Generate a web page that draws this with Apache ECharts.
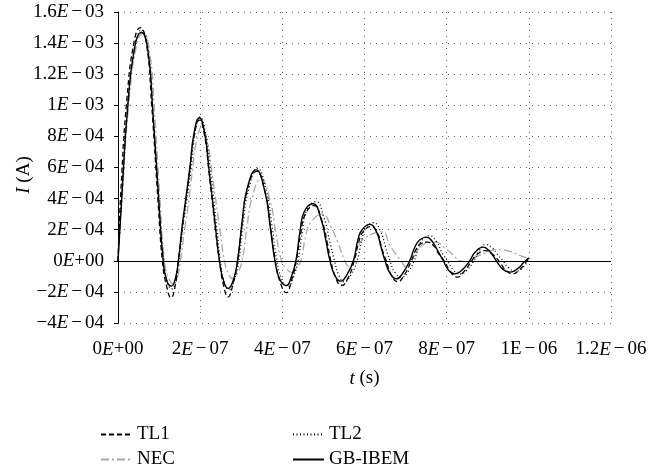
<!DOCTYPE html>
<html>
<head>
<meta charset="utf-8">
<script src="https://cdn.jsdelivr.net/npm/echarts@6/dist/echarts.min.js"></script>
<style>
  html, body { margin: 0; padding: 0; background: #fff; }
  #chart { width: 664px; height: 471px; }
</style>
</head>
<body>
<div id="chart"></div>
<script>
// Time in ns, current in µA; axis labels show seconds and amperes.
const xTickLabels = ['0E+00', '2E−07', '4E−07', '6E−07', '8E−07', '1E−06', '1.2E−06'];
const yTickLabels = ['−4E−04', '−2E−04', '0E+00', '2E−04', '4E−04', '6E−04', '8E−04',
                     '1E−03', '1.2E−03', '1.4E−03', '1.6E−03'];
const uprightE = ['1E−06', '1.2E−03'];

const tl1Time = [0, 7, 22, 40, 54, 69, 82, 97, 108, 118, 129, 140, 147, 156, 165, 175, 185, 198, 211, 221,
  238, 247, 257, 268, 279, 291, 302, 314, 337, 359, 371, 383, 395, 410, 422, 434, 445, 456, 477, 496,
  509, 518, 530, 544, 560, 575, 586, 596, 616, 633, 642, 653, 665, 681, 697, 714, 726, 737, 754, 769,
  781, 794, 808, 826, 842, 861, 874, 894, 910, 927, 944, 961, 978, 990, 1000];
const tl1Current = [0, 450, 1050, 1420, 1500, 1400, 1000, 400, 0, -160, -238, -150, 0, 200, 390, 590, 800, 905, 800, 580,
  180, 0, -160, -233, -160, 0, 240, 450, 575, 430, 220, 0, -140, -205, -130, 0, 180, 300, 355, 260,
  120, 0, -110, -159, -110, 0, 120, 185, 220, 170, 80, 0, -90, -135, -90, 0, 75, 110, 120, 95,
  45, 0, -65, -105, -70, 0, 40, 66, 45, 0, -60, -84, -55, -20, 20];

const tl2Time = [0, 9, 24, 43, 57, 73, 85, 99, 111, 120, 131, 141, 148, 158, 168, 178, 187, 200, 213, 224,
  241, 249, 259, 271, 282, 294, 305, 318, 339, 361, 374, 387, 399, 414, 426, 438, 449, 460, 482, 501,
  515, 527, 538, 551, 567, 582, 594, 603, 622, 639, 651, 662, 674, 690, 706, 721, 732, 743, 759, 776,
  788, 802, 815, 832, 849, 866, 878, 895, 912, 922, 937, 951, 966, 983, 1000];
const tl2Current = [0, 420, 1020, 1400, 1485, 1360, 960, 400, 0, -140, -180, -120, 0, 220, 400, 600, 820, 925, 820, 600,
  200, 0, -140, -185, -130, 0, 250, 460, 595, 450, 240, 0, -120, -165, -110, 0, 190, 330, 380, 280,
  130, 0, -95, -135, -90, 0, 140, 210, 245, 190, 90, 0, -75, -105, -70, 0, 90, 140, 160, 120,
  55, 0, -55, -85, -60, 0, 60, 105, 80, 45, 0, -45, -65, -50, 15];

const necTime = [0, 10, 26, 46, 61, 77, 89, 102, 113, 123, 135, 145, 152, 162, 172, 181, 191, 204, 218, 229,
  248, 259, 269, 279, 290, 302, 314, 326, 348, 370, 383, 398, 410, 422, 433, 445, 457, 470, 498, 518,
  535, 552, 562, 574, 586, 603, 642, 662, 674, 689, 702, 715, 730, 747, 774, 796, 815, 832, 847, 861,
  893, 929, 954, 978, 1000];
const necCurrent = [0, 400, 1000, 1400, 1465, 1340, 950, 400, 0, -110, -148, -100, 0, 200, 380, 580, 770, 860, 760, 560,
  200, 0, -85, -116, -85, 0, 220, 400, 527, 390, 200, 0, -50, -75, -50, 0, 160, 250, 300, 220,
  120, 0, -35, 0, 100, 150, 186, 100, 50, 0, -40, 0, 70, 110, 120, 80, 40, 0, -5, 10,
  50, 72, 60, 35, 15];

const gbTime = [0, 9, 24, 41, 57, 73, 85, 99, 110, 119, 130, 139, 147, 156, 165, 175, 185, 198, 211, 221,
  238, 247, 257, 268, 280, 291, 302, 314, 336, 358, 370, 382, 394, 410, 421, 433, 443, 454, 475, 494,
  506, 516, 528, 542, 557, 573, 584, 594, 613, 630, 640, 650, 662, 678, 693, 710, 723, 735, 751, 766,
  779, 792, 803, 820, 837, 856, 869, 889, 905, 921, 937, 954, 973, 988, 1000];
const gbCurrent = [0, 400, 1000, 1380, 1470, 1350, 950, 400, 0, -130, -163, -120, 0, 220, 400, 600, 820, 920, 820, 600,
  200, 0, -130, -178, -130, 0, 250, 460, 585, 440, 230, 0, -120, -159, -110, 0, 190, 320, 367, 270,
  130, 0, -95, -131, -90, 0, 135, 200, 234, 180, 90, 0, -80, -116, -80, 0, 90, 135, 152, 120,
  60, 0, -55, -84, -60, 0, 55, 88, 60, 0, -55, -73, -50, -10, 20];

const FONT = '"Liberation Serif", "Times New Roman", serif';
const FS = 19;

function pairs(ts, vs) { return ts.map((t, i) => [t, vs[i]]); }

// Split a label such as "1.6E−03" into mantissa, E, sign and exponent pieces.
function richTick(label) {
  const m = label.match(/^(.*?)E([−+])(\d+)$/);
  const eStyle = uprightE.includes(label) ? 'u' : 'e';
  const signStyle = m[2] === '−' ? 's' : 'n';
  return '{n|' + m[1] + '}{' + eStyle + '|E}{' + signStyle + '|' + m[2] + '}{n|' + m[3] + '}';
}

const tickRich = {
  n: { fontFamily: FONT, fontSize: FS, color: '#000' },
  e: { fontFamily: FONT, fontSize: FS, color: '#000', fontStyle: 'italic' },
  u: { fontFamily: FONT, fontSize: FS, color: '#000' },
  s: { fontFamily: FONT, fontSize: FS, color: '#000', padding: [0, 3, 0, 3] }
};

const gridSplit = { show: true, lineStyle: { color: '#666', width: 1, type: [1, 5] } };

function lineSeries(name, ts, vs, color, type, width, z) {
  return {
    name: name,
    type: 'line',
    data: pairs(ts, vs),
    symbol: 'none',
    smooth: 0.5,
    z: z,
    lineStyle: { color: color, width: width, type: type },
    itemStyle: { color: color }
  };
}

const chart = echarts.init(document.getElementById('chart'), null, { renderer: 'canvas' });

const gb = lineSeries('GB-IBEM', gbTime, gbCurrent, '#000', 'solid', 1.4, 6);
gb.markLine = {
  silent: true,
  symbol: 'none',
  label: { show: false },
  lineStyle: { color: '#000', type: 'solid', width: 1.2 },
  data: [{ yAxis: 0 }]
};

// One legend entry per block so the two columns line up exactly.
function legendEntry(name, left, top) {
  return {
    data: [name],
    left: left, top: top, padding: 0,
    itemWidth: 31, itemHeight: 14,
    itemStyle: { opacity: 0 },
    textStyle: { fontFamily: FONT, fontSize: FS, color: '#000' }
  };
}

chart.setOption({
  animation: false,
  backgroundColor: '#fff',
  grid: { left: 118, right: 53, top: 12, bottom: 148 },
  xAxis: {
    type: 'value',
    min: 0, max: 1200, interval: 200,
    name: '{i|t} (s)',
    nameLocation: 'middle',
    nameGap: 46,
    nameTextStyle: {
      fontFamily: FONT, fontSize: FS, color: '#000',
      rich: { i: { fontFamily: FONT, fontSize: FS, color: '#000', fontStyle: 'italic' } }
    },
    axisLine: { show: false, onZero: false },
    axisTick: { show: false },
    axisLabel: {
      margin: 17,
      formatter: v => richTick(xTickLabels[Math.round(v / 200)]),
      rich: tickRich
    },
    splitLine: gridSplit
  },
  yAxis: {
    type: 'value',
    min: -400, max: 1600, interval: 200,
    axisLine: { show: true, onZero: false, lineStyle: { color: '#000', width: 1 } },
    axisTick: { show: true, inside: false, length: 4, lineStyle: { color: '#000' } },
    axisLabel: {
      margin: 14,
      formatter: v => richTick(yTickLabels[Math.round((v + 400) / 200)]),
      rich: tickRich
    },
    splitLine: gridSplit
  },
  legend: [
    legendEntry('TL1', 100, 425),
    legendEntry('TL2', 292, 425),
    legendEntry('NEC', 100, 450),
    legendEntry('GB-IBEM', 292, 450)
  ],
  graphic: [
    {
      type: 'text',
      x: 24, y: 175,
      rotation: Math.PI / 2,
      style: {
        text: '{i|I} (A)',
        align: 'center', verticalAlign: 'middle',
        fontFamily: FONT, fontSize: FS, fill: '#000',
        rich: { i: { fontFamily: FONT, fontSize: FS, fontStyle: 'italic', fill: '#000' } }
      }
    }
  ],
  series: [
    lineSeries('NEC', necTime, necCurrent, '#a8a8a8', [8, 3, 2, 3], 1.3, 3),
    lineSeries('TL2', tl2Time, tl2Current, '#000', [1, 2.5], 1.3, 4),
    lineSeries('TL1', tl1Time, tl1Current, '#000', [5, 3], 1.3, 5),
    gb
  ]
});
</script>
</body>
</html>
